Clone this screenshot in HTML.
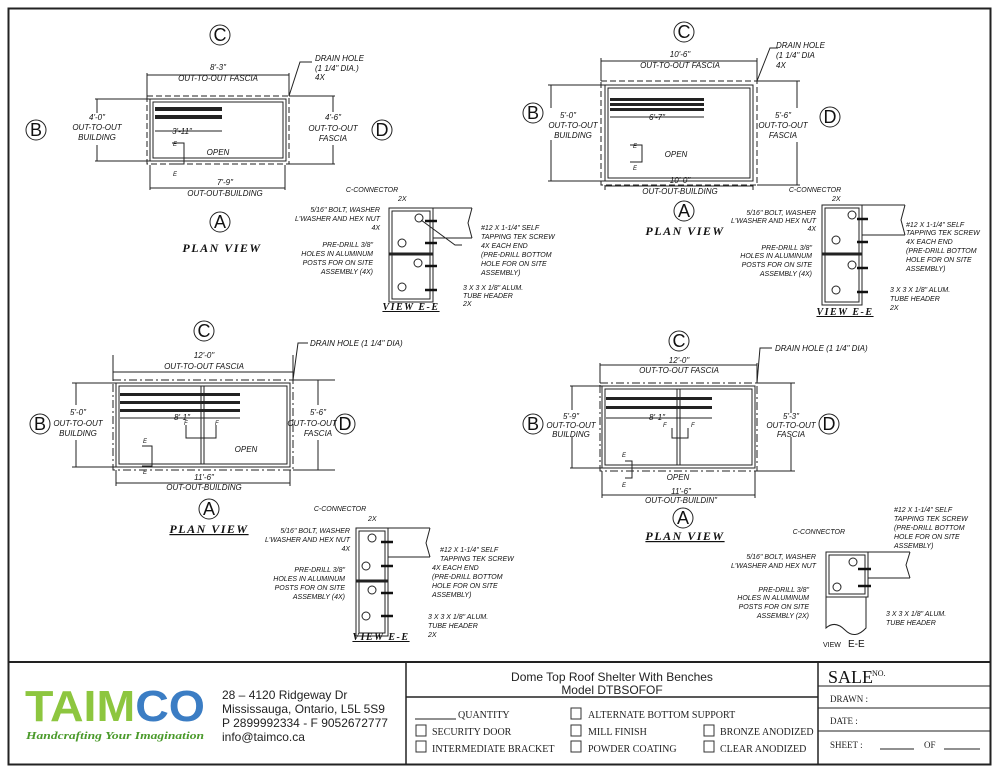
<!DOCTYPE html>
<html><head><meta charset="utf-8"><style>
body{margin:0;background:#fff}
svg{display:block}
text{font-family:"Liberation Sans",sans-serif;font-style:italic;font-size:8px;fill:#111}
.c{text-anchor:middle}
.r{text-anchor:end}
.pv{font-family:"Liberation Serif",serif;font-weight:bold;font-size:12px;letter-spacing:1.5px;text-anchor:middle}
.lt{font-family:"Liberation Sans",sans-serif;font-style:normal;font-size:18px;text-anchor:middle}
.tb{font-family:"Liberation Sans",sans-serif;font-style:normal;font-size:12px;fill:#222}
.tm{font-family:"Liberation Serif",serif;font-style:normal;font-size:10px;fill:#222}
</style></head><body>
<svg width="1000" height="773" viewBox="0 0 1000 773" xmlns="http://www.w3.org/2000/svg">
<rect x="0" y="0" width="1000" height="773" fill="#fff"/>
<rect x="8.5" y="8.5" width="982" height="756" fill="none" stroke="#222" stroke-width="2"/>
<line x1="8" y1="662" x2="991" y2="662" stroke="#222" stroke-width="2"/>
<line x1="406" y1="662" x2="406" y2="765" stroke="#222" stroke-width="1.5"/>
<line x1="406" y1="697" x2="818" y2="697" stroke="#222" stroke-width="1.5"/>
<line x1="818" y1="662" x2="818" y2="765" stroke="#222" stroke-width="1.5"/>
<line x1="818" y1="686" x2="991" y2="686" stroke="#222"/>
<line x1="818" y1="708" x2="991" y2="708" stroke="#222"/>
<line x1="818" y1="731" x2="991" y2="731" stroke="#222"/>

<g fill="none" stroke="#222" stroke-width="1">
<circle cx="220" cy="35" r="10"/><circle cx="36" cy="130" r="10"/><circle cx="382" cy="130" r="10"/><circle cx="220" cy="222" r="10"/>
<rect x="147" y="96" width="142" height="68" stroke-dasharray="6,3"/>
<rect x="150" y="99" width="136" height="62"/><rect x="153" y="102" width="130" height="56"/>
<line x1="147" y1="73" x2="147" y2="96"/><line x1="289" y1="73" x2="289" y2="96"/><line x1="147" y1="75" x2="289" y2="75"/>
<line x1="150" y1="165" x2="150" y2="190"/><line x1="285" y1="165" x2="285" y2="190"/><line x1="150" y1="188" x2="285" y2="188"/>
<line x1="95" y1="99" x2="150" y2="99"/><line x1="95" y1="161" x2="150" y2="161"/><line x1="97" y1="99" x2="97" y2="113"/><line x1="97" y1="145" x2="97" y2="161"/>
<line x1="289" y1="96" x2="335" y2="96"/><line x1="289" y1="164" x2="335" y2="164"/><line x1="333" y1="96" x2="333" y2="112"/><line x1="333" y1="145" x2="333" y2="164"/>
<line x1="155" y1="131" x2="222" y2="131"/>
<path d="M289 96 L300 62 L312 62"/>
<path d="M172 143 H184 V164 H172"/>
<circle cx="684" cy="32" r="10"/><circle cx="533" cy="113" r="10"/><circle cx="830" cy="117" r="10"/><circle cx="684" cy="211" r="10"/>
<rect x="601" y="81" width="156" height="104" stroke-dasharray="6,3"/>
<rect x="605" y="85" width="148" height="96"/><rect x="608" y="88" width="142" height="90"/>
<line x1="601" y1="58" x2="601" y2="81"/><line x1="757" y1="58" x2="757" y2="81"/><line x1="601" y1="61" x2="757" y2="61"/>
<line x1="605" y1="185" x2="605" y2="190"/><line x1="753" y1="185" x2="753" y2="190"/><line x1="605" y1="186" x2="753" y2="186"/>
<line x1="548" y1="85" x2="605" y2="85"/><line x1="548" y1="181" x2="605" y2="181"/><line x1="551" y1="85" x2="551" y2="108"/><line x1="551" y1="140" x2="551" y2="181"/>
<line x1="757" y1="81" x2="800" y2="81"/><line x1="757" y1="185" x2="800" y2="185"/><line x1="797" y1="81" x2="797" y2="108"/><line x1="797" y1="142" x2="797" y2="185"/>
<line x1="610" y1="117" x2="704" y2="117"/>
<path d="M757 81 L770 48 L778 48"/>
<path d="M630 145 H642 V162 H630"/>
<circle cx="204" cy="331" r="10"/><circle cx="40" cy="424" r="10"/><circle cx="345" cy="424" r="10"/><circle cx="209" cy="509" r="10"/>
<rect x="113" y="380" width="180" height="90" stroke-dasharray="8,3,2,3"/>
<rect x="116" y="383" width="174" height="84"/><rect x="119" y="386" width="168" height="78"/>
<line x1="201" y1="386" x2="201" y2="464"/><line x1="204" y1="386" x2="204" y2="464"/>
<line x1="113" y1="355" x2="113" y2="380"/><line x1="293" y1="355" x2="293" y2="380"/><line x1="113" y1="372" x2="293" y2="372"/>
<line x1="116" y1="470" x2="116" y2="486"/><line x1="290" y1="470" x2="290" y2="486"/><line x1="116" y1="483" x2="290" y2="483"/>
<line x1="72" y1="383" x2="116" y2="383"/><line x1="72" y1="467" x2="116" y2="467"/><line x1="76" y1="383" x2="76" y2="405"/><line x1="76" y1="440" x2="76" y2="467"/>
<line x1="293" y1="380" x2="335" y2="380"/><line x1="293" y1="470" x2="335" y2="470"/><line x1="318" y1="380" x2="318" y2="405"/><line x1="318" y1="440" x2="318" y2="470"/>
<line x1="120" y1="418" x2="240" y2="418"/>
<path d="M293 380 L298 343 L308 343"/>
<path d="M142 446 H152 V466 H142"/><path d="M186 425 V438 H216 V425"/>
<circle cx="679" cy="341" r="10"/><circle cx="533" cy="424" r="10"/><circle cx="829" cy="424" r="10"/><circle cx="683" cy="518" r="10"/>
<rect x="600" y="383" width="157" height="88" stroke-dasharray="8,3,2,3"/>
<rect x="602" y="386" width="153" height="82"/><rect x="605" y="389" width="147" height="76"/>
<line x1="677" y1="389" x2="677" y2="465"/><line x1="680" y1="389" x2="680" y2="465"/>
<line x1="600" y1="363" x2="600" y2="383"/><line x1="757" y1="363" x2="757" y2="383"/><line x1="600" y1="365" x2="757" y2="365"/>
<line x1="602" y1="471" x2="602" y2="498"/><line x1="755" y1="471" x2="755" y2="498"/><line x1="602" y1="495" x2="755" y2="495"/>
<line x1="570" y1="386" x2="602" y2="386"/><line x1="570" y1="468" x2="602" y2="468"/><line x1="572" y1="386" x2="572" y2="410"/><line x1="572" y1="437" x2="572" y2="468"/>
<line x1="757" y1="383" x2="795" y2="383"/><line x1="757" y1="471" x2="795" y2="471"/><line x1="791" y1="383" x2="791" y2="413"/><line x1="791" y1="437" x2="791" y2="471"/>
<line x1="606" y1="418" x2="712" y2="418"/>
<path d="M757 383 L760 348 L772 348"/>
<path d="M625 461 H632 V478 H625"/><path d="M672 428 V438 H688 V428"/>
</g>
<g fill="#222">
<rect x="155" y="107" width="67" height="4"/><rect x="155" y="115" width="67" height="4"/>
<rect x="610" y="98" width="94" height="3"/><rect x="610" y="103" width="94" height="3"/><rect x="610" y="108" width="94" height="3"/>
<rect x="120" y="393" width="120" height="3"/><rect x="120" y="401" width="120" height="3"/><rect x="120" y="409" width="120" height="3"/>
<rect x="606" y="397" width="106" height="3"/><rect x="606" y="406" width="106" height="3"/>
</g>
<g fill="none" stroke="#222" stroke-width="1">
<rect x="389" y="208" width="44" height="94"/><rect x="392" y="211" width="38" height="88"/><line x1="389" y1="254" x2="433" y2="254" stroke-width="3"/>
<path d="M433 208 H472 M433 238 H472 M472 208 l-4 15 l4 15"/>
<circle cx="419" cy="218" r="4"/><circle cx="402" cy="243" r="4"/><circle cx="418" cy="263" r="4"/><circle cx="402" cy="287" r="4"/>
<path d="M421 220 L455 245 L462 245"/>
<rect x="822" y="205" width="40" height="100"/><rect x="825" y="208" width="34" height="94"/><line x1="822" y1="254" x2="862" y2="254" stroke-width="3"/>
<path d="M862 205 H905 M862 235 H905 M905 205 l-4 15 l4 15"/>
<circle cx="852" cy="215" r="4"/><circle cx="836" cy="240" r="4"/><circle cx="852" cy="265" r="4"/><circle cx="836" cy="290" r="4"/>
<rect x="356" y="528" width="32" height="108"/><rect x="359" y="531" width="26" height="102"/><line x1="356" y1="581" x2="388" y2="581" stroke-width="3"/>
<path d="M388 528 H430 M388 557 H430 M430 528 l-4 15 l4 14"/>
<circle cx="372" cy="538" r="4"/><circle cx="366" cy="566" r="4"/><circle cx="372" cy="590" r="4"/><circle cx="366" cy="616" r="4"/>
<rect x="826" y="552" width="42" height="45"/><rect x="829" y="555" width="36" height="39"/>
<path d="M868 552 H910 M868 578 H910 M910 552 l-4 13 l4 13"/>
<path d="M826 597 V628 Q835 620 845 630 Q855 640 866 628 V597"/>
<circle cx="853" cy="562" r="4"/><circle cx="837" cy="587" r="4"/>
</g>
<g stroke="#111" stroke-width="2.5">
<line x1="425" y1="221" x2="437" y2="221"/><line x1="425" y1="243" x2="437" y2="243"/><line x1="425" y1="266" x2="437" y2="266"/><line x1="425" y1="290" x2="437" y2="290"/>
<line x1="857" y1="219" x2="868" y2="219"/><line x1="857" y1="242" x2="868" y2="242"/><line x1="857" y1="268" x2="868" y2="268"/><line x1="857" y1="292" x2="868" y2="292"/>
<line x1="381" y1="542" x2="393" y2="542"/><line x1="381" y1="566" x2="393" y2="566"/><line x1="381" y1="593" x2="393" y2="593"/><line x1="381" y1="616" x2="393" y2="616"/>
<line x1="858" y1="569" x2="871" y2="569"/><line x1="858" y1="586" x2="871" y2="586"/>
</g>

<text class="lt" x="220" y="41">C</text><text class="lt" x="36" y="136">B</text><text class="lt" x="382" y="136">D</text><text class="lt" x="220" y="228">A</text>
<text class="lt" x="684" y="38">C</text><text class="lt" x="533" y="119">B</text><text class="lt" x="830" y="123">D</text><text class="lt" x="684" y="217">A</text>
<text class="lt" x="204" y="337">C</text><text class="lt" x="40" y="430">B</text><text class="lt" x="345" y="430">D</text><text class="lt" x="209" y="515">A</text>
<text class="lt" x="679" y="347">C</text><text class="lt" x="533" y="430">B</text><text class="lt" x="829" y="430">D</text><text class="lt" x="683" y="524">A</text>

<text class="c" x="218" y="70">8'-3"</text><text class="c" x="218" y="81">OUT-TO-OUT FASCIA</text>
<text x="315" y="61">DRAIN HOLE</text><text x="315" y="71">(1 1/4" DIA.)</text><text x="315" y="80">4X</text>
<text class="c" x="97" y="120">4'-0"</text><text class="c" x="97" y="130">OUT-TO-OUT</text><text class="c" x="97" y="140">BUILDING</text>
<text class="c" x="333" y="120">4'-6"</text><text class="c" x="333" y="131">OUT-TO-OUT</text><text class="c" x="333" y="141">FASCIA</text>
<text class="c" x="182" y="134">3'-11"</text><text class="c" x="218" y="155">OPEN</text>
<text x="173" y="146" style="font-size:6px">E</text><text x="173" y="176" style="font-size:6px">E</text>
<text class="c" x="225" y="185">7'-9"</text><text class="c" x="225" y="196">OUT-OUT-BUILDING</text>
<text class="pv" x="222" y="252">PLAN VIEW</text>
<text class="c" x="372" y="192" style="font-size:7px">C-CONNECTOR</text><text x="398" y="201" style="font-size:7px">2X</text>
<text class="r" x="380" y="212" style="font-size:7px">5/16" BOLT, WASHER</text><text class="r" x="380" y="221" style="font-size:7px">L'WASHER AND HEX NUT</text><text class="r" x="380" y="230" style="font-size:7px">4X</text>
<text class="r" x="373" y="247" style="font-size:7px">PRE-DRILL 3/8"</text><text class="r" x="373" y="256" style="font-size:7px">HOLES IN ALUMINUM</text><text class="r" x="373" y="265" style="font-size:7px">POSTS FOR ON SITE</text><text class="r" x="373" y="274" style="font-size:7px">ASSEMBLY (4X)</text>
<text x="481" y="230" style="font-size:7px">#12 X 1-1/4" SELF</text><text x="481" y="239" style="font-size:7px">TAPPING TEK SCREW</text><text x="481" y="248" style="font-size:7px">4X EACH END</text><text x="481" y="257" style="font-size:7px">(PRE-DRILL BOTTOM</text><text x="481" y="266" style="font-size:7px">HOLE FOR ON SITE</text><text x="481" y="275" style="font-size:7px">ASSEMBLY)</text>
<text x="463" y="290" style="font-size:7px">3 X 3 X 1/8" ALUM.</text><text x="463" y="298" style="font-size:7px">TUBE HEADER</text><text x="463" y="306" style="font-size:7px">2X</text>
<text class="pv" x="411" y="310" style="font-size:10px;text-decoration:underline">VIEW E-E</text>

<text class="c" x="680" y="57">10'-6"</text><text class="c" x="680" y="68">OUT-TO-OUT FASCIA</text>
<text x="776" y="48">DRAIN HOLE</text><text x="776" y="58">(1 1/4" DIA</text><text x="776" y="68">4X</text>
<text class="c" x="568" y="118">5'-0"</text><text class="c" x="573" y="128">OUT-TO-OUT</text><text class="c" x="573" y="138">BUILDING</text>
<text class="c" x="783" y="118">5'-6"</text><text class="c" x="783" y="128">OUT-TO-OUT</text><text class="c" x="783" y="138">FASCIA</text>
<text class="c" x="657" y="120">6'-7"</text><text class="c" x="676" y="157">OPEN</text>
<text x="633" y="148" style="font-size:6px">E</text><text x="633" y="170" style="font-size:6px">E</text>
<text class="c" x="680" y="183">10'-0"</text><text class="c" x="680" y="194">OUT-OUT-BUILDING</text>
<text class="pv" x="685" y="235">PLAN VIEW</text>
<text class="c" x="815" y="192" style="font-size:7px">C-CONNECTOR</text><text x="832" y="201" style="font-size:7px">2X</text>
<text class="r" x="816" y="215" style="font-size:7px">5/16" BOLT, WASHER</text><text class="r" x="816" y="223" style="font-size:7px">L'WASHER AND HEX NUT</text><text class="r" x="816" y="231" style="font-size:7px">4X</text>
<text class="r" x="812" y="250" style="font-size:7px">PRE-DRILL 3/8"</text><text class="r" x="812" y="258" style="font-size:7px">HOLES IN ALUMINUM</text><text class="r" x="812" y="267" style="font-size:7px">POSTS FOR ON SITE</text><text class="r" x="812" y="276" style="font-size:7px">ASSEMBLY (4X)</text>
<text x="906" y="227" style="font-size:7px">#12 X 1-1/4" SELF</text><text x="906" y="235" style="font-size:7px">TAPPING TEK SCREW</text><text x="906" y="244" style="font-size:7px">4X EACH END</text><text x="906" y="253" style="font-size:7px">(PRE-DRILL BOTTOM</text><text x="906" y="262" style="font-size:7px">HOLE FOR ON SITE</text><text x="906" y="271" style="font-size:7px">ASSEMBLY)</text>
<text x="890" y="292" style="font-size:7px">3 X 3 X 1/8" ALUM.</text><text x="890" y="301" style="font-size:7px">TUBE HEADER</text><text x="890" y="310" style="font-size:7px">2X</text>
<text class="pv" x="845" y="315" style="font-size:10px;text-decoration:underline">VIEW E-E</text>

<text class="c" x="204" y="358">12'-0"</text><text class="c" x="204" y="369">OUT-TO-OUT FASCIA</text>
<text x="310" y="346">DRAIN HOLE (1 1/4" DIA)</text>
<text class="c" x="78" y="415">5'-0"</text><text class="c" x="78" y="426">OUT-TO-OUT</text><text class="c" x="78" y="436">BUILDING</text>
<text class="c" x="318" y="415">5'-6"</text><text class="c" x="312" y="426">OUT-TO-OUT</text><text class="c" x="318" y="436">FASCIA</text>
<text class="c" x="182" y="420">8'-1"</text><text x="184" y="425" style="font-size:6px">F</text><text x="215" y="425" style="font-size:6px">F</text>
<text class="c" x="246" y="452">OPEN</text>
<text x="143" y="443" style="font-size:6px">E</text><text x="143" y="474" style="font-size:6px">E</text>
<text class="c" x="204" y="480">11'-6"</text><text class="c" x="204" y="490">OUT-OUT-BUILDING</text>
<text class="pv" x="209" y="533" style="text-decoration:underline">PLAN VIEW</text>
<text class="c" x="340" y="511" style="font-size:7px">C-CONNECTOR</text><text x="368" y="521" style="font-size:7px">2X</text>
<text class="r" x="350" y="533" style="font-size:7px">5/16" BOLT, WASHER</text><text class="r" x="350" y="542" style="font-size:7px">L'WASHER AND HEX NUT</text><text class="r" x="350" y="551" style="font-size:7px">4X</text>
<text class="r" x="345" y="572" style="font-size:7px">PRE-DRILL 3/8"</text><text class="r" x="345" y="581" style="font-size:7px">HOLES IN ALUMINUM</text><text class="r" x="345" y="590" style="font-size:7px">POSTS FOR ON SITE</text><text class="r" x="345" y="599" style="font-size:7px">ASSEMBLY (4X)</text>
<text x="440" y="552" style="font-size:7px">#12 X 1-1/4" SELF</text><text x="440" y="561" style="font-size:7px">TAPPING TEK SCREW</text><text x="432" y="570" style="font-size:7px">4X EACH END</text><text x="432" y="579" style="font-size:7px">(PRE-DRILL BOTTOM</text><text x="432" y="588" style="font-size:7px">HOLE FOR ON SITE</text><text x="432" y="597" style="font-size:7px">ASSEMBLY)</text>
<text x="428" y="619" style="font-size:7px">3 X 3 X 1/8" ALUM.</text><text x="428" y="628" style="font-size:7px">TUBE HEADER</text><text x="428" y="637" style="font-size:7px">2X</text>
<text class="pv" x="381" y="640" style="font-size:10px;text-decoration:underline">VIEW E-E</text>

<text class="c" x="679" y="363">12'-0"</text><text class="c" x="679" y="373">OUT-TO-OUT FASCIA</text>
<text x="775" y="351">DRAIN HOLE (1 1/4" DIA)</text>
<text class="c" x="571" y="419">5'-9"</text><text class="c" x="571" y="428">OUT-TO-OUT</text><text class="c" x="571" y="437">BUILDING</text>
<text class="c" x="791" y="419">5'-3"</text><text class="c" x="791" y="428">OUT-TO-OUT</text><text class="c" x="791" y="437">FASCIA</text>
<text class="c" x="657" y="420">8'-1"</text><text x="663" y="427" style="font-size:6px">F</text><text x="691" y="427" style="font-size:6px">F</text>
<text class="c" x="678" y="480">OPEN</text>
<text x="622" y="457" style="font-size:6px">E</text><text x="622" y="487" style="font-size:6px">E</text>
<text class="c" x="681" y="494">11'-6"</text><text class="c" x="681" y="503">OUT-OUT-BUILDIN"</text>
<text class="pv" x="685" y="540" style="text-decoration:underline">PLAN VIEW</text>
<text class="r" x="845" y="534" style="font-size:7px">C-CONNECTOR</text>
<text x="894" y="512" style="font-size:7px">#12 X 1-1/4" SELF</text><text x="894" y="521" style="font-size:7px">TAPPING TEK SCREW</text><text x="894" y="530" style="font-size:7px">(PRE-DRILL BOTTOM</text><text x="894" y="539" style="font-size:7px">HOLE FOR ON SITE</text><text x="894" y="548" style="font-size:7px">ASSEMBLY)</text>
<text class="r" x="816" y="559" style="font-size:7px">5/16" BOLT, WASHER</text><text class="r" x="816" y="568" style="font-size:7px">L'WASHER AND HEX NUT</text>
<text class="r" x="809" y="592" style="font-size:7px">PRE-DRILL 3/8"</text><text class="r" x="809" y="600" style="font-size:7px">HOLES IN ALUMINUM</text><text class="r" x="809" y="609" style="font-size:7px">POSTS FOR ON SITE</text><text class="r" x="809" y="618" style="font-size:7px">ASSEMBLY (2X)</text>
<text x="886" y="616" style="font-size:7px">3 X 3 X 1/8" ALUM.</text><text x="886" y="625" style="font-size:7px">TUBE HEADER</text>
<text x="823" y="647" style="font-size:7px;font-style:normal">VIEW</text><text x="848" y="647" style="font-size:10px;font-style:normal">E-E</text>

<text x="25" y="721" textLength="180" lengthAdjust="spacingAndGlyphs" style="font-family:'Liberation Sans',sans-serif;font-style:normal;font-weight:bold;font-size:44px;fill:#8dc63f">TAIM<tspan style="fill:#3b7dc4">CO</tspan></text>
<text x="26" y="739" textLength="178" lengthAdjust="spacingAndGlyphs" style="font-family:'Liberation Serif',serif;font-weight:bold;font-size:11px;fill:#4a9a2a">Handcrafting Your Imagination</text>
<text class="tb" x="222" y="699">28 – 4120 Ridgeway Dr</text>
<text class="tb" x="222" y="713">Mississauga, Ontario, L5L 5S9</text>
<text class="tb" x="222" y="727">P 2899992334 - F 9052672777</text>
<text class="tb" x="222" y="741">info@taimco.ca</text>
<text class="tb" x="612" y="681" style="text-anchor:middle">Dome Top Roof Shelter With Benches</text>
<text class="tb" x="612" y="694" style="text-anchor:middle">Model DTBSOFOF</text>
<line x1="415" y1="719" x2="456" y2="719" stroke="#222"/>
<text class="tm" x="458" y="718">QUANTITY</text>
<g fill="none" stroke="#333"><rect x="571" y="708" width="10" height="11"/><rect x="416" y="725" width="10" height="11"/><rect x="571" y="725" width="10" height="11"/><rect x="704" y="725" width="10" height="11"/><rect x="416" y="741" width="10" height="11"/><rect x="571" y="741" width="10" height="11"/><rect x="704" y="741" width="10" height="11"/></g>
<text class="tm" x="588" y="718">ALTERNATE BOTTOM SUPPORT</text>
<text class="tm" x="432" y="735">SECURITY DOOR</text><text class="tm" x="588" y="735">MILL FINISH</text><text class="tm" x="720" y="735">BRONZE ANODIZED</text>
<text class="tm" x="432" y="752">INTERMEDIATE BRACKET</text><text class="tm" x="588" y="752">POWDER COATING</text><text class="tm" x="720" y="752">CLEAR ANODIZED</text>
<text x="828" y="683" style="font-family:'Liberation Serif',serif;font-style:normal;font-size:18px">SALE</text><text x="872" y="676" style="font-family:'Liberation Serif',serif;font-style:normal;font-size:8px">NO.</text>
<text class="tm" x="830" y="702" style="font-size:9px">DRAWN :</text>
<text class="tm" x="830" y="724" style="font-size:9px">DATE :</text>
<text class="tm" x="830" y="748" style="font-size:9px">SHEET :</text>
<line x1="880" y1="749" x2="914" y2="749" stroke="#222"/><text class="tm" x="924" y="748" style="font-size:9px">OF</text><line x1="944" y1="749" x2="980" y2="749" stroke="#222"/>
</svg>
</body></html>
